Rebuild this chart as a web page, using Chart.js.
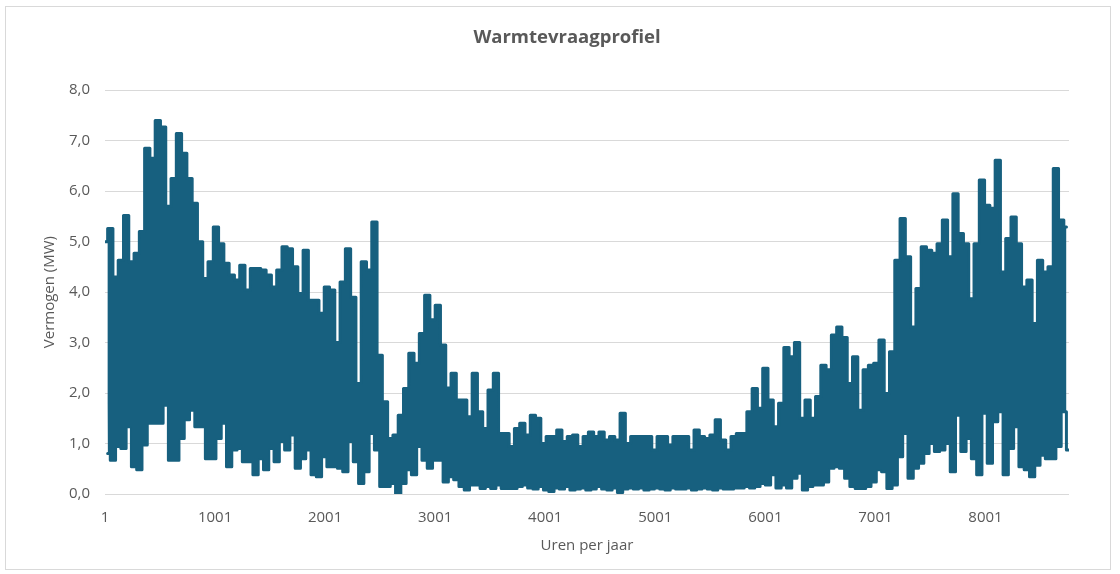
<!DOCTYPE html>
<html>
<head>
<meta charset="utf-8">
<script src="https://cdn.jsdelivr.net/npm/chart.js@4"></script>
<style>
  body { margin: 0; background: #fff; }
  #wrap { position: relative; width: 1120px; height: 574px; }
  #frame { position: absolute; left: 5px; top: 6px; width: 1104px; height: 562px; border: 1px solid #d9d9d9; pointer-events: none; }
</style>
</head>
<body>
<div id="wrap">
  <canvas id="chart" width="1120" height="574"></canvas>
  <div id="frame"></div>
</div>
<script>
const bucketHours = 48;
const peakValues = [
  5.0, 5.26, 4.3, 4.63, 5.52, 4.6, 4.77, 5.2, 6.85, 6.65, 7.4, 7.27, 5.7, 6.25, 7.14, 6.75, 6.25, 5.76, 5.0, 4.27,
  4.6, 5.29, 4.96, 4.57, 4.34, 4.24, 4.53, 4.04, 4.47, 4.47, 4.44, 4.34, 4.1, 4.44, 4.9, 4.86, 4.5, 3.97, 4.83, 3.84,
  3.84, 3.58, 4.1, 4.04, 3.0, 4.2, 4.86, 3.9, 2.19, 4.6, 4.44, 5.39, 2.75, 1.83, 1.1, 1.17, 1.56, 2.09, 2.79, 2.59,
  3.18, 3.94, 3.45, 3.74, 2.95, 2.1, 2.39, 1.86, 1.86, 1.53, 2.39, 1.63, 1.3, 2.06, 2.39, 1.2, 1.2, 0.94, 1.3, 1.4,
  1.17, 1.56, 1.5, 1.0, 1.14, 1.14, 1.27, 1.04, 1.14, 1.17, 0.94, 1.14, 1.23, 1.14, 1.23, 1.07, 1.14, 1.07, 1.6, 1.0,
  1.14, 1.14, 1.14, 1.14, 0.87, 1.14, 1.14, 0.97, 1.14, 1.14, 1.14, 0.87, 1.27, 1.14, 1.1, 1.17, 1.47, 1.07, 0.87, 1.14,
  1.2, 1.2, 1.63, 2.09, 1.7, 2.49, 1.86, 1.33, 1.8, 2.9, 2.72, 3.0, 1.5, 1.86, 1.5, 1.93, 2.55, 2.46, 3.15, 3.31,
  3.1, 2.19, 2.72, 1.66, 2.46, 2.55, 2.59, 3.05, 1.99, 2.82, 4.63, 5.46, 4.7, 3.31, 4.07, 4.9, 4.83, 4.77, 4.96, 5.43,
  4.7, 5.95, 5.16, 4.96, 3.87, 4.96, 6.22, 5.72, 5.66, 6.61, 4.4, 5.06, 5.49, 4.96, 4.1, 4.24, 3.38, 4.63, 4.4, 4.5, 6.45, 5.43, 5.29,
];
const troughValues = [
  0.8, 0.67, 0.94, 0.9, 1.33, 0.54, 0.48, 0.97, 1.4, 1.4, 1.4, 1.76, 0.67, 0.67, 1.1, 1.47, 1.66, 1.33, 1.33, 0.7,
  0.7, 1.1, 1.4, 0.54, 0.87, 0.9, 0.64, 0.64, 0.38, 0.7, 0.48, 0.9, 0.64, 1.04, 0.87, 1.17, 0.51, 0.7, 0.87, 0.38,
  0.34, 0.74, 0.54, 0.54, 0.51, 0.44, 1.04, 0.64, 0.21, 0.44, 1.2, 0.87, 0.15, 0.15, 0.21, 0.01, 0.21, 0.48, 0.38, 0.94,
  0.67, 0.51, 0.67, 0.67, 0.24, 0.34, 0.28, 0.15, 0.08, 0.18, 0.18, 0.11, 0.15, 0.11, 0.18, 0.11, 0.11, 0.11, 0.15, 0.18,
  0.12, 0.1, 0.15, 0.08, 0.05, 0.12, 0.1, 0.15, 0.08, 0.1, 0.12, 0.08, 0.1, 0.15, 0.1, 0.08, 0.12, 0.03, 0.1, 0.12,
  0.1, 0.12, 0.08, 0.1, 0.12, 0.1, 0.08, 0.12, 0.1, 0.1, 0.12, 0.08, 0.1, 0.12, 0.1, 0.08, 0.12, 0.1, 0.1, 0.12,
  0.12, 0.15, 0.12, 0.15, 0.21, 0.18, 0.38, 0.12, 0.18, 0.12, 0.31, 0.41, 0.08, 0.15, 0.18, 0.18, 0.24, 0.51, 0.54, 0.51,
  0.31, 0.15, 0.11, 0.11, 0.15, 0.24, 0.48, 0.44, 0.11, 0.18, 0.74, 1.2, 0.31, 0.51, 0.61, 0.8, 1.0, 0.84, 0.87, 1.0,
  0.44, 1.56, 0.84, 1.1, 0.7, 0.38, 1.6, 0.61, 1.43, 1.63, 0.38, 0.9, 1.33, 0.54, 0.48, 0.34, 0.57, 0.77, 0.7, 0.7, 0.94, 1.63, 0.87,
];
const hoursPerYear = 8760;
const tickHours = [1, 1001, 2001, 3001, 4001, 5001, 6001, 7001, 8001];

const lineColor = '#17607f';
const textColor = '#595959';
const fontFamily = "'Open Sans', 'Noto Sans', sans-serif";

// the hourly swings are too dense to see one by one, so draw the band between highs and lows
const peakPoints = peakValues.map((v, idx) => ({ x: 1 + idx * bucketHours, y: v }));
const troughPoints = troughValues.map((v, idx) => ({
  x: Math.min(1 + idx * bucketHours + bucketHours / 2, hoursPerYear),
  y: v,
}));

const lineStyle = {
  borderColor: lineColor,
  backgroundColor: lineColor,
  borderWidth: 3,
  borderJoinStyle: 'round',
  borderCapStyle: 'round',
  pointRadius: 0,
  stepped: 'middle',
};

const chart = new Chart(document.getElementById('chart'), {
  type: 'line',
  data: {
    datasets: [
      { label: 'Piek', data: peakPoints, fill: '+1', ...lineStyle },
      { label: 'Dal', data: troughPoints, fill: false, ...lineStyle },
    ],
  },
  options: {
    responsive: false,
    animation: false,
    layout: { padding: { left: 14, right: 0, top: 0, bottom: 0 } },
    plugins: {
      legend: { display: false },
      tooltip: { enabled: false },
      title: {
        display: true,
        text: 'Warmtevraagprofiel',
        color: textColor,
        font: { family: fontFamily, size: 18.5, weight: 'bold' },
        padding: { top: 27, bottom: 41 },
      },
    },
    scales: {
      x: {
        type: 'linear',
        min: 1,
        max: hoursPerYear,
        afterBuildTicks(scale) { scale.ticks = tickHours.map((v) => ({ value: v })); },
        afterFit(scale) { scale.height = 80; },
        ticks: {
          color: textColor,
          font: { family: fontFamily, size: 15 },
          padding: 15,
          autoSkip: false,
          maxRotation: 0,
          callback(val) { return String(val); },
        },
        grid: { display: false, drawTicks: false },
        border: { display: false },
        title: {
          display: true,
          text: 'Uren per jaar',
          color: textColor,
          font: { family: fontFamily, size: 15 },
          padding: { top: 0, bottom: 19 },
        },
      },
      y: {
        min: 0,
        max: 8,
        afterFit(scale) { scale.width = 91; },
        ticks: {
          stepSize: 1,
          color: textColor,
          font: { family: fontFamily, size: 15 },
          padding: 15,
          callback(val) { return val.toFixed(1).replace('.', ','); },
        },
        grid: { color: '#d9d9d9', lineWidth: 1, drawTicks: false },
        border: { display: false },
        title: {
          display: true,
          text: 'Vermogen (MW)',
          color: textColor,
          font: { family: fontFamily, size: 15 },
          padding: { top: 27, bottom: 0 },
        },
      },
      // empty right-hand axis, only keeps the plot clear of the right edge
      yRight: {
        position: 'right',
        display: true,
        afterFit(scale) { scale.width = 51; },
        ticks: { display: false },
        grid: { display: false, drawTicks: false },
        border: { display: false },
      },
    },
  },
});
</script>
</body>
</html>
